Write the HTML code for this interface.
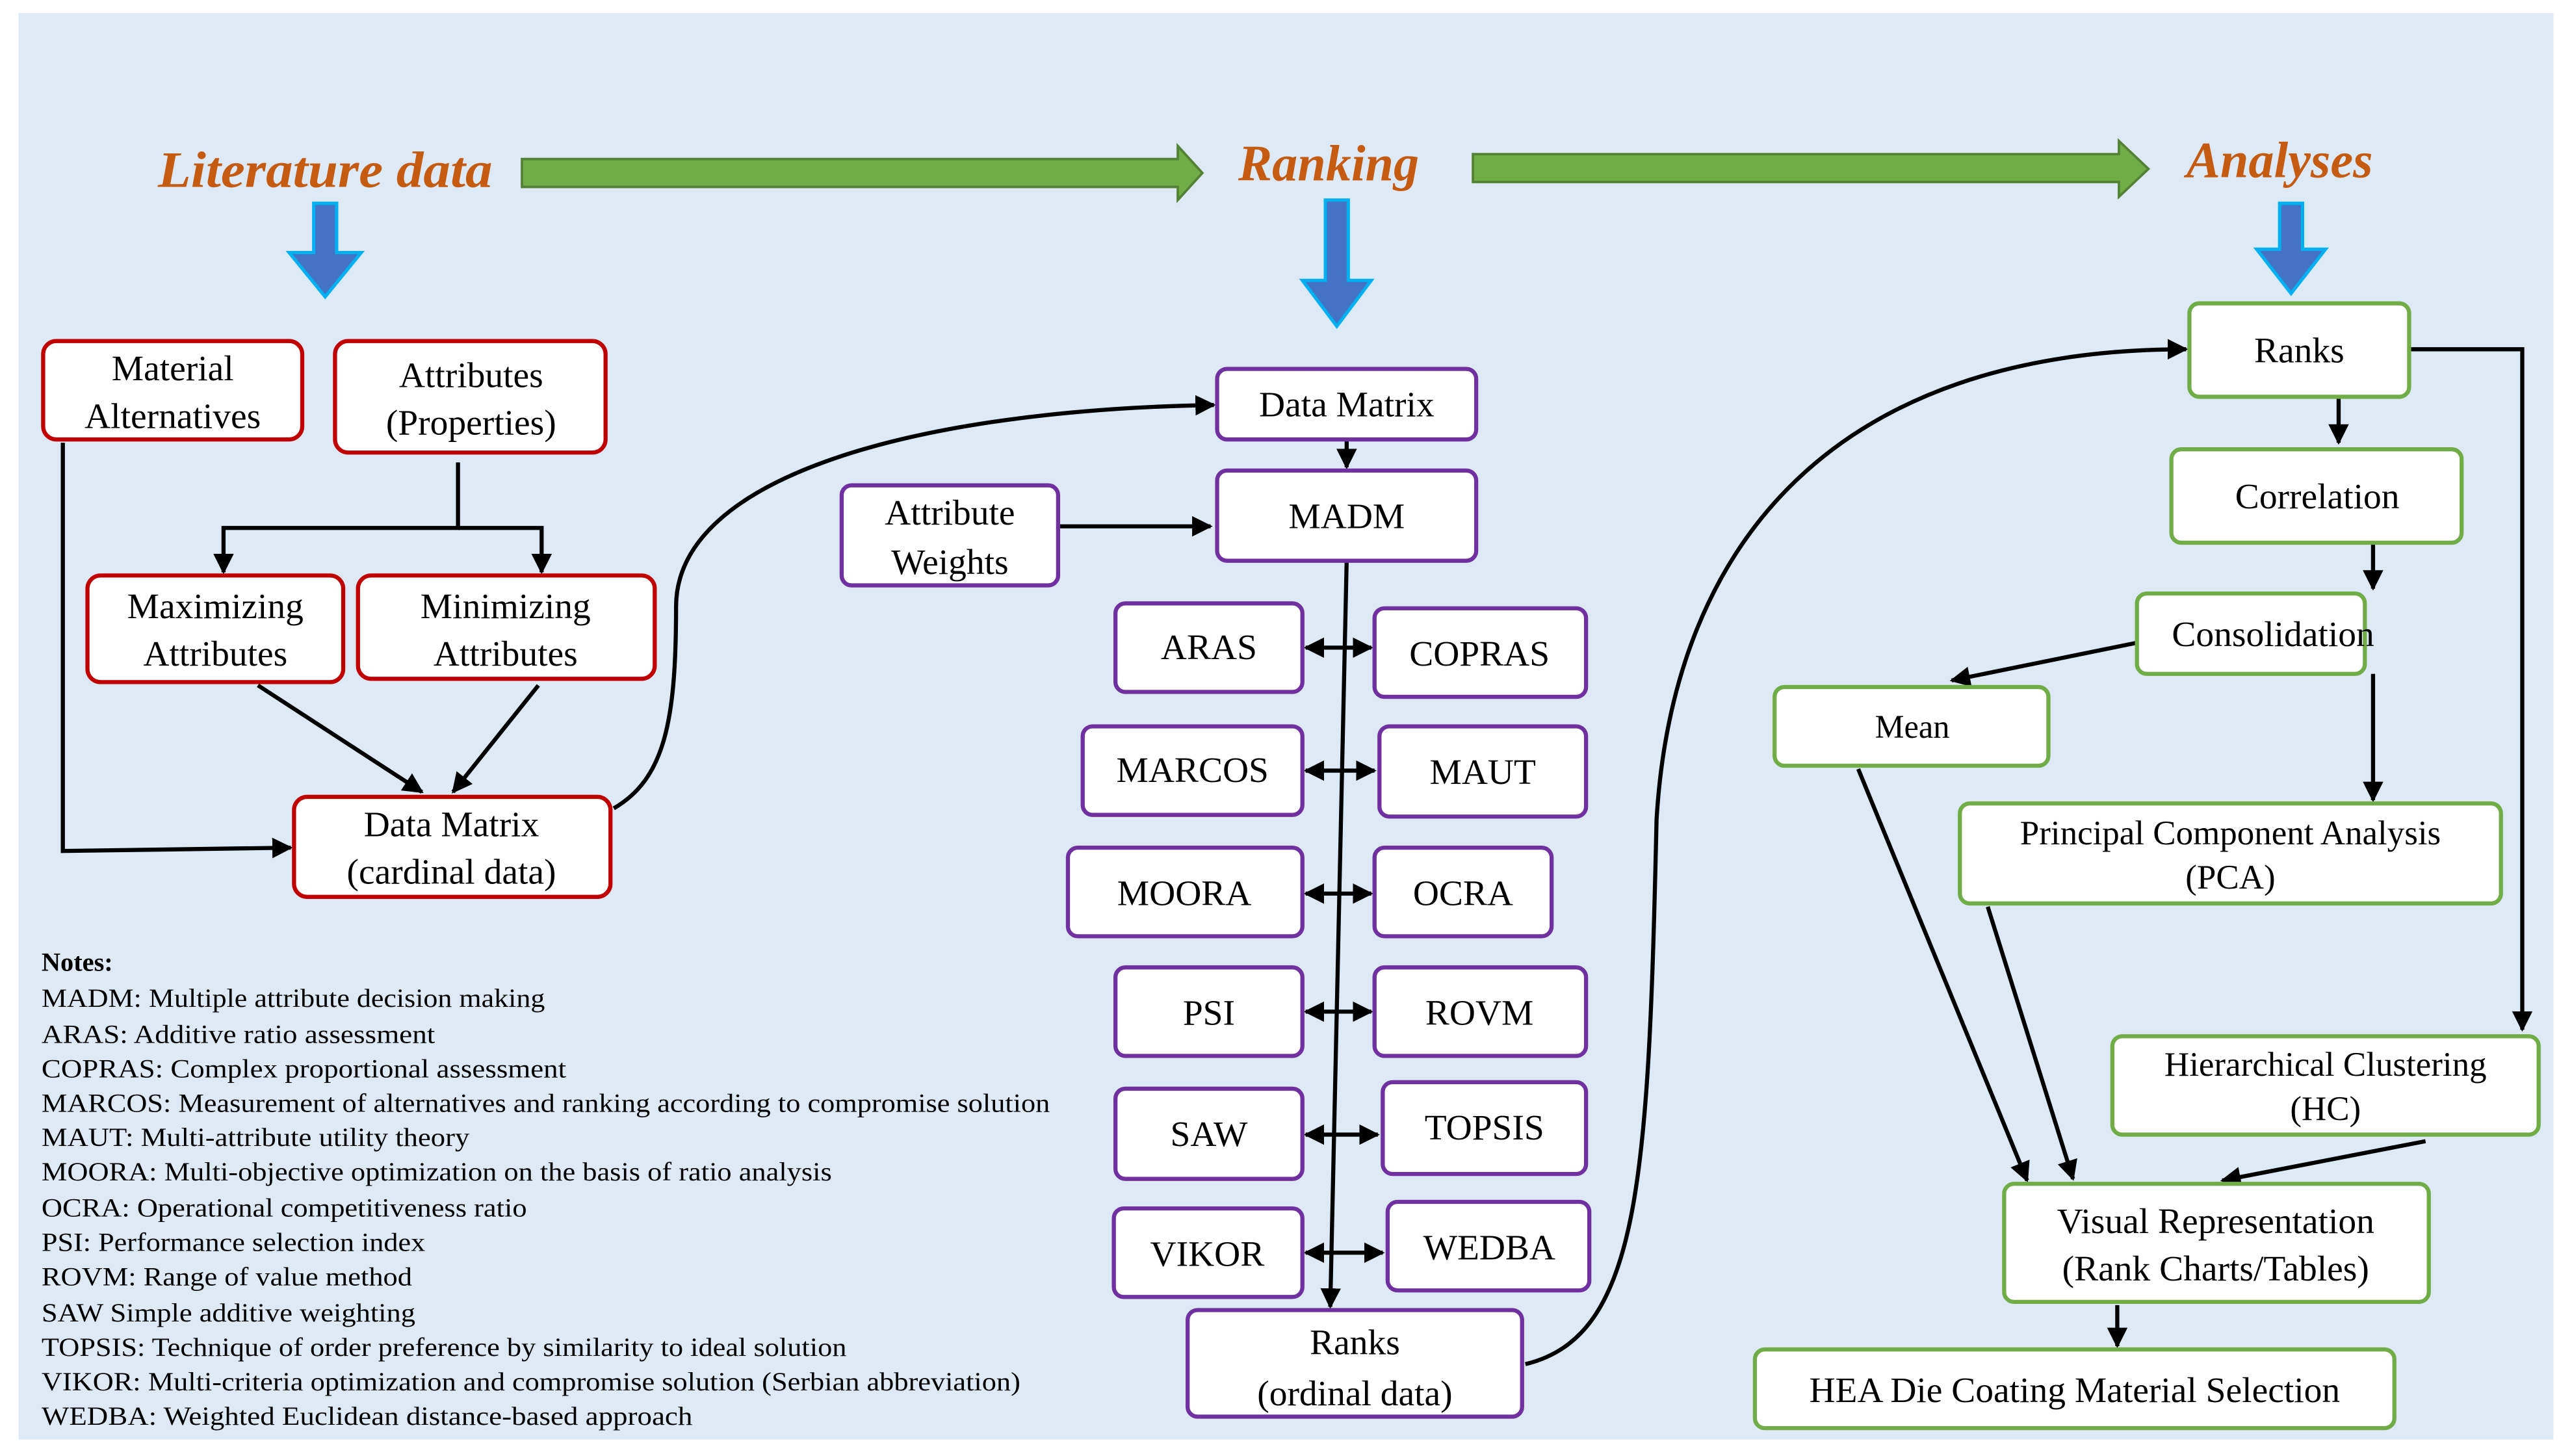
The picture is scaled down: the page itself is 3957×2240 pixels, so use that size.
<!DOCTYPE html>
<html><head><meta charset="utf-8"><style>html,body{margin:0;padding:0;background:#fff}svg{display:block}svg text{font-family:"Liberation Serif","Times New Roman",serif}</style></head><body>
<svg width="3957" height="2240" viewBox="0 0 1568 888" xmlns="http://www.w3.org/2000/svg">
<defs>
<marker id="a" viewBox="0 0 10 10" refX="9" refY="5" markerWidth="5" markerHeight="5" orient="auto-start-reverse"><path d="M0,0 L10,5 L0,10 z" fill="#000"/></marker>
</defs>
<rect x="0" y="0" width="1568" height="888" fill="#fff"/>
<rect x="11" y="8" width="1546" height="870" fill="#dde9f5"/>

<g font-style="italic" font-weight="bold" fill="#c55a11" font-size="31" text-anchor="middle">
<text x="198" y="114" textLength="204" lengthAdjust="spacingAndGlyphs">Literature data</text>
<text x="810" y="110">Ranking</text>
<text x="1390" y="108">Analyses</text>
</g>
<g fill="#70ad47" stroke="#548235" stroke-width="1.5">
<path d="M318,97 H718 V89 L733,105.5 L718,122 V114 H318 Z"/>
<path d="M898,94 H1292 V86 L1310,103 L1292,120 V111 H898 Z"/>
</g>
<g fill="#4472c4" stroke="#00b0f0" stroke-width="2">
<path d="M191,124 H205 V154 H220 L198,181 L176,154 H191 Z"/>
<path d="M808,122 H822 V171 H836 L815,199 L794,171 H808 Z"/>
<path d="M1390,124 H1404 V152 H1418 L1397,179 L1376,152 H1390 Z"/>
</g>

<g stroke="#000" stroke-width="2.5" fill="none" marker-end="url(#a)">
<path d="M279,282 V322 H136 V349"/>
<path d="M279,322 H330 V349"/>
<path d="M38,270 V519 L177,517"/>
<path d="M157,418 L257,483"/>
<path d="M328,418 L276,483"/>
<path d="M374,493 C405,475 412,440 412,370 C412,290 560,250 740,247"/>
<path d="M821,268 V285"/>
<path d="M645,321 H738"/>
<path d="M821,342 L811,797"/>
<path d="M930,832 C1000,815 1005,720 1010,500 C1020,330 1120,213 1333,213"/>
<path d="M1426,242 V270"/>
<path d="M1469,213 H1538 V628"/>
<path d="M1447,331 V359"/>
<path d="M1303,392 L1190,415"/>
<path d="M1447,411 V488"/>
<path d="M1133,469 L1236,720"/>
<path d="M1212,553 L1264,719"/>
<path d="M1479,696 L1355,720"/>
<path d="M1291,796 V821"/>
</g>
<g stroke="#000" stroke-width="2.5" fill="none" marker-start="url(#a)" marker-end="url(#a)">
<path d="M796,395 H836"/>
<path d="M796,470 H838"/>
<path d="M796,545 H836"/>
<path d="M796,617 H836"/>
<path d="M796,692 H840"/>
<path d="M796,764 H843"/>
</g>

<g fill="#fff" stroke="#c00000" stroke-width="2.5">
<rect x="26" y="208" width="158" height="60" rx="8"/>
<rect x="204" y="208" width="165" height="68" rx="8"/>
<rect x="53" y="351" width="156" height="65" rx="8"/>
<rect x="218" y="351" width="181" height="63" rx="8"/>
<rect x="179" y="486" width="193" height="61" rx="8"/>
</g>
<g fill="#fff" stroke="#7030a0" stroke-width="2.5">
<rect x="742" y="225" width="158" height="43" rx="6"/>
<rect x="513" y="296" width="132" height="61" rx="6"/>
<rect x="742" y="287" width="158" height="55" rx="6"/>
<rect x="680" y="368" width="114" height="54" rx="6"/>
<rect x="838" y="371" width="129" height="54" rx="6"/>
<rect x="660" y="443" width="134" height="54" rx="6"/>
<rect x="841" y="443" width="126" height="55" rx="6"/>
<rect x="651" y="517" width="143" height="54" rx="6"/>
<rect x="838" y="517" width="108" height="54" rx="6"/>
<rect x="680" y="590" width="114" height="54" rx="6"/>
<rect x="838" y="590" width="129" height="54" rx="6"/>
<rect x="680" y="664" width="114" height="55" rx="6"/>
<rect x="843" y="660" width="124" height="56" rx="6"/>
<rect x="679" y="737" width="115" height="54" rx="6"/>
<rect x="846" y="733" width="123" height="54" rx="6"/>
<rect x="724" y="799" width="204" height="65" rx="6"/>
</g>
<g fill="#fff" stroke="#70ad47" stroke-width="2.5">
<rect x="1335" y="185" width="134" height="57" rx="6"/>
<rect x="1324" y="274" width="177" height="57" rx="6"/>
<rect x="1303" y="362" width="139" height="49" rx="6"/>
<rect x="1082" y="419" width="167" height="48" rx="6"/>
<rect x="1195" y="490" width="330" height="61" rx="6"/>
<rect x="1288" y="632" width="260" height="60" rx="6"/>
<rect x="1222" y="722" width="259" height="72" rx="6"/>
<rect x="1070" y="823" width="390" height="48" rx="6"/>
</g>

<g font-size="22" text-anchor="middle" fill="#000">
<text x="105" y="232">Material</text><text x="105" y="261">Alternatives</text>
<text x="287" y="236">Attributes</text><text x="287" y="265">(Properties)</text>
<text x="131" y="377">Maximizing</text><text x="131" y="406">Attributes</text>
<text x="308" y="377">Minimizing</text><text x="308" y="406">Attributes</text>
<text x="275" y="510">Data Matrix</text><text x="275" y="539">(cardinal data)</text>
<text x="821" y="254">Data Matrix</text>
<text x="579" y="320">Attribute</text><text x="579" y="350">Weights</text>
<text x="821" y="322">MADM</text>
<text x="737" y="402">ARAS</text>
<text x="902" y="406">COPRAS</text>
<text x="727" y="477">MARCOS</text>
<text x="904" y="478">MAUT</text>
<text x="722" y="552">MOORA</text>
<text x="892" y="552">OCRA</text>
<text x="737" y="625">PSI</text>
<text x="902" y="625">ROVM</text>
<text x="737" y="699">SAW</text>
<text x="905" y="695">TOPSIS</text>
<text x="736" y="772">VIKOR</text>
<text x="908" y="768">WEDBA</text>
<text x="826" y="826">Ranks</text><text x="826" y="857">(ordinal data)</text>
<text x="1402" y="221">Ranks</text>
<text x="1413" y="310">Correlation</text>
<text x="1386" y="394">Consolidation</text>
<text x="1166" y="450" font-size="20">Mean</text>
<text x="1360" y="515" font-size="21">Principal Component Analysis</text><text x="1360" y="542" font-size="21">(PCA)</text>
<text x="1418" y="656" font-size="21">Hierarchical Clustering</text><text x="1418" y="683" font-size="21">(HC)</text>
<text x="1351" y="752">Visual Representation</text><text x="1351" y="781">(Rank Charts/Tables)</text>
<text x="1265" y="855">HEA Die Coating Material Selection</text>
</g>

<g font-size="16" fill="#000">
<text x="25" y="592" font-weight="bold">Notes:</text>
<text x="25" y="614" textLength="307" lengthAdjust="spacingAndGlyphs">MADM: Multiple  attribute decision making</text>
<text x="25" y="636" textLength="240" lengthAdjust="spacingAndGlyphs">ARAS: Additive ratio assessment</text>
<text x="25" y="657" textLength="320" lengthAdjust="spacingAndGlyphs">COPRAS: Complex proportional  assessment</text>
<text x="25" y="678" textLength="615" lengthAdjust="spacingAndGlyphs">MARCOS: Measurement of alternatives and ranking  according to compromise  solution</text>
<text x="25" y="699" textLength="261" lengthAdjust="spacingAndGlyphs">MAUT: Multi-attribute  utility  theory</text>
<text x="25" y="720" textLength="482" lengthAdjust="spacingAndGlyphs">MOORA: Multi-objective  optimization  on the basis of ratio analysis</text>
<text x="25" y="742" textLength="296" lengthAdjust="spacingAndGlyphs">OCRA: Operational competitiveness ratio</text>
<text x="25" y="763" textLength="234" lengthAdjust="spacingAndGlyphs">PSI: Performance selection index</text>
<text x="25" y="784" textLength="226" lengthAdjust="spacingAndGlyphs">ROVM: Range of value method</text>
<text x="25" y="806" textLength="228" lengthAdjust="spacingAndGlyphs">SAW Simple  additive  weighting</text>
<text x="25" y="827" textLength="491" lengthAdjust="spacingAndGlyphs">TOPSIS: Technique of order preference by similarity  to ideal solution</text>
<text x="25" y="848" textLength="597" lengthAdjust="spacingAndGlyphs">VIKOR: Multi-criteria  optimization  and compromise  solution  (Serbian abbreviation)</text>
<text x="25" y="869" textLength="397" lengthAdjust="spacingAndGlyphs">WEDBA: Weighted Euclidean  distance-based approach</text>
</g>
</svg>
</body></html>
